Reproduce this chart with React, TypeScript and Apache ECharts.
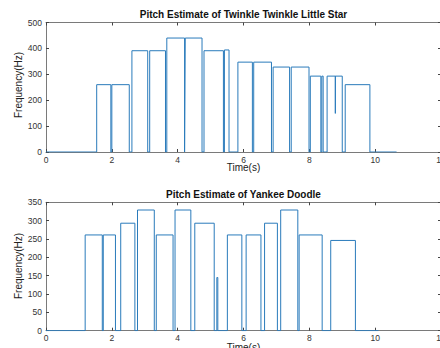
import React, { useEffect, useRef } from "react";
import * as echarts from "echarts";

// Twinkle Twinkle Little Star: note onsets, offsets (s) and pitch (Hz)
const twStart = [1.54, 2.0, 2.61, 3.15, 3.67, 4.23, 4.8, 5.42, 5.83, 6.31, 6.9, 7.45, 8.03, 8.38, 8.54, 9.09];
const twEnd = [1.97, 2.53, 3.09, 3.63, 4.21, 4.74, 5.39, 5.56, 6.27, 6.85, 7.4, 7.99, 8.35, 8.42, 9.0, 9.84];
const twFreq = [260, 260, 391, 391, 440, 440, 391, 394, 347, 347, 328, 328, 293, 293, 293, 260];
const twDipTime = [8.79];
const twDipFreq = [149];
const twTraceEnd = 10.65;

// Yankee Doodle
const ydStart = [1.19, 1.74, 2.27, 2.78, 3.35, 3.92, 4.52, 5.19, 5.51, 6.08, 6.64, 7.13, 7.69, 8.65];
const ydEnd = [1.71, 2.11, 2.7, 3.29, 3.86, 4.4, 5.11, 5.22, 5.95, 6.53, 7.03, 7.65, 8.39, 9.4];
const ydFreq = [261, 261, 293, 329, 261, 329, 293, 145, 261, 261, 293, 329, 261, 246];
const ydDipTime: number[] = [];
const ydDipFreq: number[] = [];
const ydTraceEnd = 10.1;

const xTicks = { min: 0, max: 12, interval: 2 };
const topY = { min: 0, max: 500, interval: 100 };
const botY = { min: 0, max: 350, interval: 50 };

const titles = ["Pitch Estimate of Twinkle Twinkle Little Star", "Pitch Estimate of Yankee Doodle"];
const xLabel = "Time(s)";
const yLabel = "Frequency(Hz)";

function buildTrace(
  starts: number[],
  ends: number[],
  freqs: number[],
  dipT: number[],
  dipF: number[],
  tEnd: number
) {
  const pts: number[][] = [[0, 0]];
  for (let i = 0; i < starts.length; i++) {
    const s = starts[i];
    const e = ends[i];
    const f = freqs[i];
    pts.push([s, 0], [s, f]);
    for (let k = 0; k < dipT.length; k++) {
      if (dipT[k] > s && dipT[k] < e) {
        pts.push([dipT[k], f], [dipT[k], dipF[k]], [dipT[k], f]);
      }
    }
    pts.push([e, f], [e, 0]);
  }
  pts.push([tEnd, 0]);
  return pts;
}

const FONT = "Liberation Sans, Arial, Helvetica, sans-serif";
const LINE = "#2a7bbb";
const BOX = "#7a7a7a";

export default function App() {
  const ref = useRef<HTMLDivElement>(null);
  useEffect(() => {
    if (!ref.current) return;
    const chart = echarts.init(ref.current, undefined, { renderer: "svg" });
    const grids = [
      { left: 46, width: 395, top: 22.5, height: 129.5, containLabel: false, outerBoundsMode: "none" },
      { left: 46, width: 395, top: 202.3, height: 128.4, containLabel: false, outerBoundsMode: "none" },
    ];
    const xBase = (gi: number, pos: "bottom" | "top") => ({
      type: "value",
      gridIndex: gi,
      position: pos,
      min: xTicks.min,
      max: xTicks.max,
      interval: xTicks.interval,
      axisLine: { show: true, onZero: false, lineStyle: { color: BOX, width: 1 } },
      axisTick: { show: true, inside: true, length: 3, lineStyle: { color: "#444", width: 1 } },
      axisLabel: {
        show: pos === "bottom",
        fontSize: 8.5,
        color: "#333",
        margin: 3,
        fontFamily: FONT,
        showMaxLabel: true,
        showMinLabel: true,
      },
      splitLine: { show: false },
    });
    const yBase = (gi: number, pos: "left" | "right", r: { min: number; max: number; interval: number }) => ({
      type: "value",
      gridIndex: gi,
      position: pos,
      min: r.min,
      max: r.max,
      interval: r.interval,
      axisLine: { show: true, onZero: false, lineStyle: { color: BOX, width: 1 } },
      axisTick: { show: true, inside: true, length: 3, lineStyle: { color: "#444", width: 1 } },
      axisLabel: { show: pos === "left", fontSize: 8.5, color: "#333", margin: 4, fontFamily: FONT },
      splitLine: { show: false },
    });
    const option: any = {
      animation: false,
      backgroundColor: "#ffffff",
      grid: grids,
      xAxis: [xBase(0, "bottom"), xBase(0, "top"), xBase(1, "bottom"), xBase(1, "top")],
      yAxis: [yBase(0, "left", topY), yBase(0, "right", topY), yBase(1, "left", botY), yBase(1, "right", botY)],
      series: [
        {
          type: "line",
          xAxisIndex: 0,
          yAxisIndex: 0,
          data: buildTrace(twStart, twEnd, twFreq, twDipTime, twDipFreq, twTraceEnd),
          showSymbol: false,
          lineStyle: { color: LINE, width: 1 },
          itemStyle: { color: LINE },
          clip: true,
        },
        {
          type: "line",
          xAxisIndex: 2,
          yAxisIndex: 2,
          data: buildTrace(ydStart, ydEnd, ydFreq, ydDipTime, ydDipFreq, ydTraceEnd),
          showSymbol: false,
          lineStyle: { color: LINE, width: 1 },
          itemStyle: { color: LINE },
          clip: true,
        },
      ],
      graphic: [
        {
          type: "text",
          x: 243.5,
          y: 14.5,
          style: { text: titles[0], fontSize: 10, fontWeight: "bold", fontFamily: FONT, fill: "#111", align: "center", verticalAlign: "middle" },
        },
        {
          type: "text",
          x: 243.5,
          y: 194,
          style: { text: titles[1], fontSize: 10, fontWeight: "bold", fontFamily: FONT, fill: "#111", align: "center", verticalAlign: "middle" },
        },
        {
          type: "text",
          x: 243.5,
          y: 167.5,
          style: { text: xLabel, fontSize: 10, fontFamily: FONT, fill: "#222", align: "center", verticalAlign: "middle" },
        },
        {
          type: "text",
          x: 243.5,
          y: 347.5,
          style: { text: xLabel, fontSize: 10, fontFamily: FONT, fill: "#222", align: "center", verticalAlign: "middle" },
        },
        {
          type: "text",
          x: 18,
          y: 85,
          rotation: Math.PI / 2,
          style: { text: yLabel, fontSize: 10, fontFamily: FONT, fill: "#222", align: "center", verticalAlign: "middle" },
        },
        {
          type: "text",
          x: 18,
          y: 266,
          rotation: Math.PI / 2,
          style: { text: yLabel, fontSize: 10, fontFamily: FONT, fill: "#222", align: "center", verticalAlign: "middle" },
        },
      ],
    };
    chart.setOption(option);
    return () => chart.dispose();
  }, []);
  return (
    <div
      ref={ref}
      style={{ position: "fixed", left: 0, top: 0, width: 440, height: 348, background: "#fff" }}
    />
  );
}
